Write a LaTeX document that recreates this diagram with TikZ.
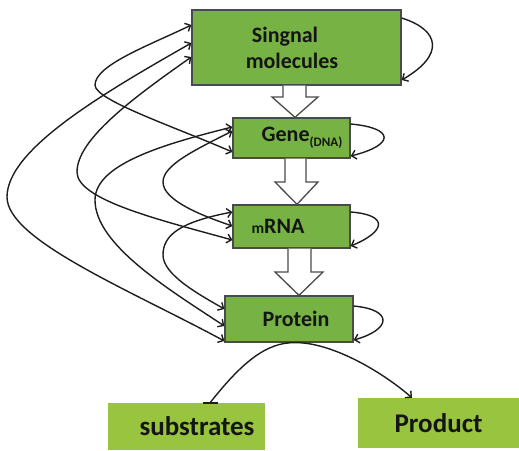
\documentclass[tikz,border=0pt]{standalone}
\usepackage{fontspec}
\setmainfont{Carlito}
\usetikzlibrary{arrows.meta,calc}
\definecolor{boxgreen}{HTML}{76B244}
\definecolor{endgreen}{HTML}{99C43F}
\definecolor{boxline}{HTML}{4A4A4A}
\definecolor{curvecol}{HTML}{1E1E1E}
\definecolor{txt}{HTML}{151515}
\begin{document}
\begin{tikzpicture}[x=1pt,y=-1pt,
  box/.style={draw=boxline,line width=1.3pt,fill=boxgreen,inner sep=0pt,
    font=\fontsize{22}{26}\selectfont\bfseries,text=txt,align=center},
  endbox/.style={fill=endgreen,inner sep=0pt,
    font=\fontsize{27}{30}\selectfont\bfseries,text=txt},
  curveline/.style={line width=1.4pt,draw=curvecol},
  link/.style={curveline,{Straight Barb[length=4.5pt,width=9pt]}-{Straight Barb[length=4.5pt,width=9pt]}},
  selfloop/.style={curveline,-{Straight Barb[length=4.5pt,width=9pt]}},
  blockarr/.style={draw=boxline,fill=white,line width=1.3pt,line join=miter}
]
\useasboundingbox (0,0) rectangle (519,450);

% main boxes
\node[box,minimum width=209pt,minimum height=75pt] (sig) at (296.5,47.5)
  {\hspace*{-23pt}Singnal\\\hspace*{-9pt}molecules};
\node[box,minimum width=117pt,minimum height=40pt] (gene) at (291.5,138)
  {\hspace*{21pt}Gene\raisebox{-5pt}{\fontsize{13}{13}\selectfont(DNA)}};
\node[box,minimum width=117pt,minimum height=43pt] (mrna) at (291.5,226.5)
  {\hspace*{-27pt}{\fontsize{15.5}{15.5}\selectfont m}RNA};
\node[box,minimum width=128pt,minimum height=46pt] (prot) at (289,319)
  {\hspace*{14pt}Protein};

% end boxes
\node[endbox,minimum width=157pt,minimum height=47pt] (sub) at (186.5,426.5)
  {\hspace*{21pt}substrates};
\node[endbox,minimum width=161pt,minimum height=50pt] (prod) at (438.5,423)
  {Product};

% hollow block arrows
\draw[blockarr] (283,0 |- sig.south) -- (283,97) -- (272,97) -- (295,0 |- gene.north)
  -- (318,97) -- (306,97) -- (306,0 |- sig.south);
\draw[blockarr] (285,0 |- gene.south) -- (285,182) -- (275,182) -- (297,0 |- mrna.north)
  -- (318,182) -- (306,182) -- (306,0 |- gene.south);
\draw[blockarr] (288,0 |- mrna.south) -- (288,272) -- (275,272) -- (299,0 |- prot.north)
  -- (323,272) -- (311,272) -- (311,0 |- mrna.south);

% left regulation curves (double headed)
\draw[link] (sig.west |- 0,25) .. controls (150,45) and (95,65) .. (95,85)
  .. controls (95,100) and (170,125) .. (gene.west |- 0,152);
\draw[link] (sig.west |- 0,43) .. controls (100,95) and (7,150) .. (7,197)
  .. controls (7,240) and (130,290) .. (prot.west |- 0,341);
\draw[link] (sig.west |- 0,57) .. controls (130,100) and (77,140) .. (77,172)
  .. controls (77,200) and (160,220) .. (mrna.west |- 0,240);
\draw[link] (gene.west |- 0,127) .. controls (160,145) and (95,165) .. (95,200)
  .. controls (95,245) and (170,290) .. (prot.west |- 0,326);
\draw[link] (gene.west |- 0,131) .. controls (195,150) and (163,165) .. (163,182)
  .. controls (163,200) and (200,215) .. (mrna.west |- 0,226);
\draw[link] (mrna.west |- 0,212) .. controls (180,222) and (163,235) .. (163,255)
  .. controls (163,275) and (200,295) .. (prot.west |- 0,309);

% self loops on the right
\draw[selfloop] (sig.east |- 0,18) .. controls (440,30) and (445,55) .. (sig.east |- 0,80);
\draw[selfloop] (gene.east |- 0,124) .. controls (395,128) and (395,145) .. (gene.east |- 0,156);
\draw[selfloop] (mrna.east |- 0,212) .. controls (390,215) and (385,232) .. (mrna.east |- 0,246);
\draw[selfloop] (prot.east |- 0,306) .. controls (395,310) and (390,330) .. (prot.east |- 0,340);

% protein -> substrates / product
\draw[selfloop] (210,0 |- sub.north) .. controls (240,365) and (265,342) .. (295,0 |- prot.south)
  .. controls (330,342) and (380,370) .. (412,0 |- prod.north);
\draw[curveline] (203,0 |- sub.north) -- (218,0 |- sub.north);
\end{tikzpicture}
\end{document}
